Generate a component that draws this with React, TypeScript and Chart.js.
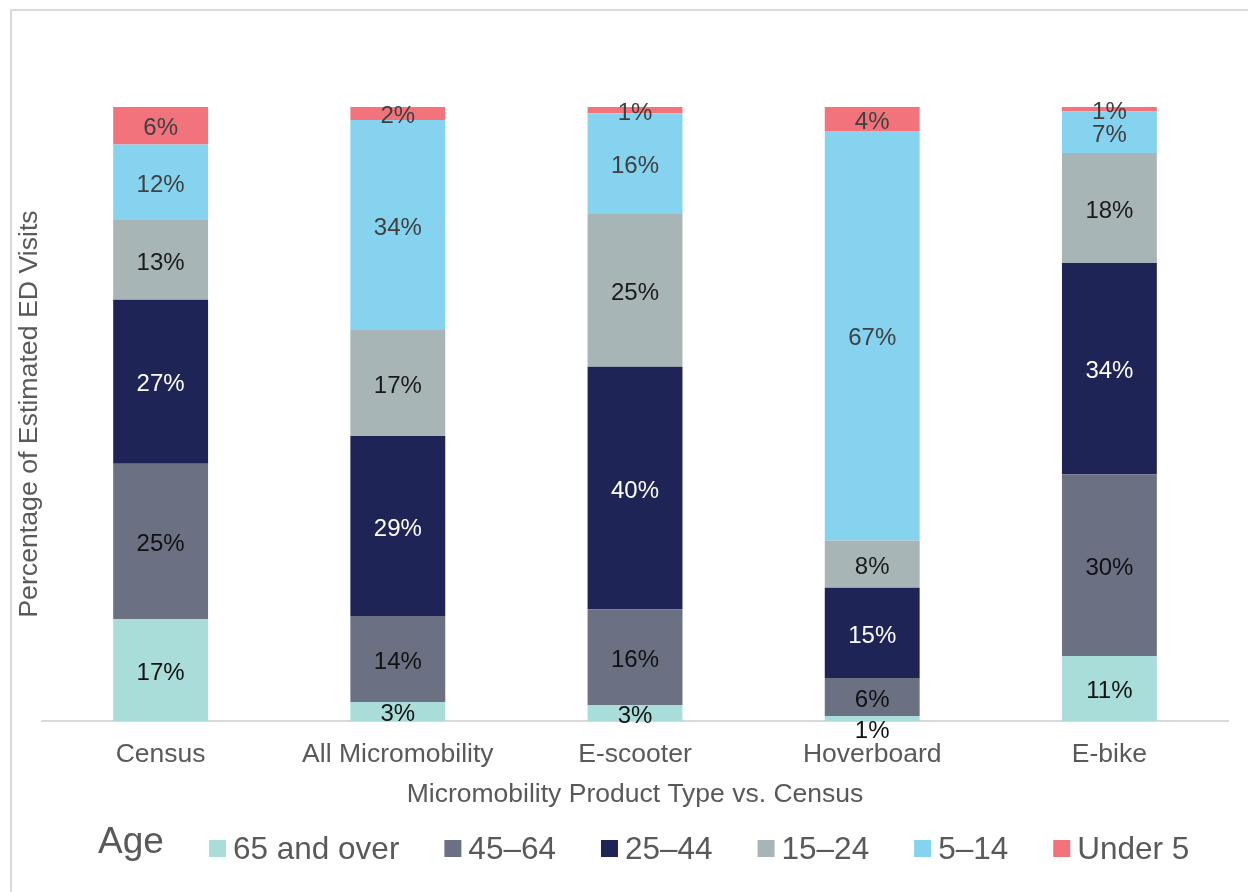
import React, { useEffect, useRef } from "react";
import { Chart, registerables } from "chart.js";

Chart.register(...registerables);

const FONT = "'Liberation Sans', Arial, Helvetica, sans-serif";

const categories = ["Census", "All Micromobility", "E-scooter", "Hoverboard", "E-bike"];
const seriesNames = ["65 and over", "45–64", "25–44", "15–24", "5–14", "Under 5"];
const age65Plus = [16.6, 3.1, 2.6, 0.8, 10.6];
const age45to64 = [25.3, 14.0, 15.6, 6.2, 29.6];
const age25to44 = [26.7, 29.3, 39.5, 14.7, 34.4];
const age15to24 = [13.0, 17.3, 25.0, 7.7, 17.9];
const age5to14 = [12.3, 34.2, 16.3, 66.7, 6.8];
const under5 = [6.1, 2.1, 1.0, 3.9, 0.7];

const seriesValues = [age65Plus, age45to64, age25to44, age15to24, age5to14, under5];
const seriesColors = ["#A8DDD9", "#6B7083", "#1E2556", "#A7B5B6", "#85D3EE", "#F2737C"];
const labelColors = ["#111111", "#111111", "#FFFFFF", "#1A1A1A", "#404040", "#404040"];

const legendTitle = "Age";
const xTitle = "Micromobility Product Type vs. Census";
const yTitle = "Percentage of Estimated ED Visits";

const dataLabelPlugin = {
  id: "segLabels",
  afterDatasetsDraw(chart: any) {
    const ctx = chart.ctx;
    ctx.save();
    ctx.font = `24px ${FONT}`;
    ctx.textAlign = "center";
    ctx.textBaseline = "middle";
    chart.data.datasets.forEach((ds: any, di: number) => {
      const meta = chart.getDatasetMeta(di);
      meta.data.forEach((el: any, i: number) => {
        const v = ds.data[i];
        const p = el.getProps(["x", "y", "base"], true);
        let cy = (p.y + p.base) / 2 + 3;
        if (di === 0 && p.base - p.y < 8) cy = p.base + 10;
        ctx.fillStyle = labelColors[di];
        ctx.fillText(Math.round(v) + "%", p.x, cy);
      });
    });
    ctx.restore();
  },
};

const legendPlugin = {
  id: "ageLegend",
  afterDraw(chart: any) {
    const ctx = chart.ctx;
    ctx.save();
    ctx.fillStyle = "#595959";
    ctx.textBaseline = "alphabetic";
    ctx.textAlign = "left";
    ctx.font = `37px ${FONT}`;
    ctx.fillText(legendTitle, 98, 853);
    ctx.font = `31.5px ${FONT}`;
    let x = 209;
    chart.data.datasets.forEach((ds: any) => {
      ctx.fillStyle = ds.backgroundColor;
      ctx.fillRect(x, 840, 17, 17);
      ctx.fillStyle = "#595959";
      ctx.fillText(ds.label, x + 24, 859);
      x += 24 + ctx.measureText(ds.label).width + 45;
    });
    ctx.restore();
  },
};

export default function App() {
  const ref = useRef<HTMLCanvasElement | null>(null);

  useEffect(() => {
    if (!ref.current) return;
    const chart = new Chart(ref.current, {
      type: "bar",
      data: {
        labels: categories,
        datasets: seriesNames.map((name, i) => ({
          label: name,
          data: seriesValues[i],
          backgroundColor: seriesColors[i],
          borderWidth: 0,
          barPercentage: 0.4,
          categoryPercentage: 1,
        })),
      },
      options: {
        animation: false,
        responsive: false,
        devicePixelRatio: 1,
        layout: { padding: { left: 18, right: 20, top: 107, bottom: 81.4 } },
        plugins: { legend: { display: false }, tooltip: { enabled: false } },
        scales: {
          x: {
            stacked: true,
            grid: { display: false, drawTicks: false },
            border: { display: true, color: "#D9D9D9", width: 2 },
            ticks: { color: "#595959", font: { family: FONT, size: 26.5, lineHeight: 1.2 }, padding: 18 },
            title: {
              display: true,
              text: xTitle,
              color: "#595959",
              font: { family: FONT, size: 26.5, lineHeight: 1.2 },
              padding: { top: -10, bottom: 0 },
            },
          },
          y: {
            stacked: true,
            min: 0,
            max: 100,
            grid: { display: false, drawTicks: false },
            border: { display: false },
            ticks: { display: false },
            title: {
              display: true,
              text: yTitle,
              color: "#595959",
              font: { family: FONT, size: 26.7, lineHeight: 0.9 },
              padding: 0,
            },
          },
        },
      },
      plugins: [dataLabelPlugin, legendPlugin],
    });
    return () => chart.destroy();
  }, []);

  return (
    <div style={{ position: "fixed", left: 0, top: 0, width: "100vw", height: "100vh", overflow: "hidden", background: "#fff" }}>
      <div
        style={{
          position: "absolute",
          left: 10,
          top: 9,
          width: 1400,
          height: 1100,
          borderLeft: "2px solid #D9D9D9",
          borderTop: "2px solid #D9D9D9",
        }}
      />
      <canvas ref={ref} width={1248} height={892} style={{ position: "absolute", left: 0, top: 0, width: 1248, height: 892 }} />
    </div>
  );
}
